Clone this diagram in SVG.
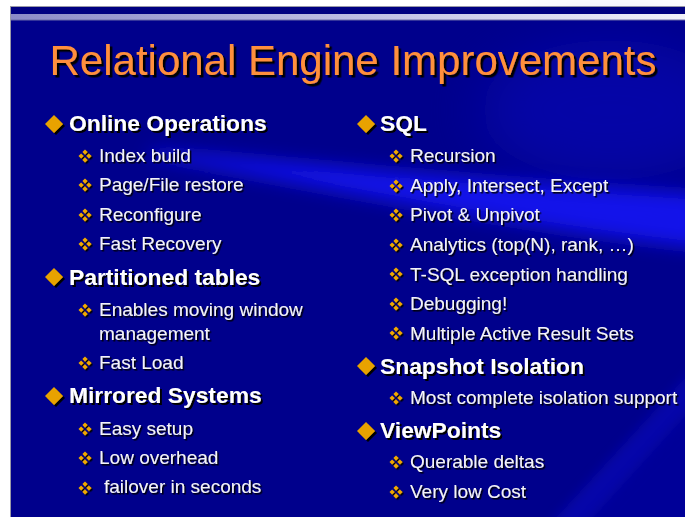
<svg xmlns="http://www.w3.org/2000/svg" xmlns:xlink="http://www.w3.org/1999/xlink" width="685" height="517" viewBox="0 0 685 517">
  <style>
    text { font-family: "Liberation Sans", Arial, sans-serif; }
    .title { font-size: 42px; fill: #ff8f3c; filter: url(#shadowBig); }
    .head { font-size: 22.8px; font-weight: bold; fill: #ffffff; filter: url(#shadow); }
    .item { font-size: 19px; fill: #f4f4f8; filter: url(#shadowSmall); }
    .bullet { fill: #e8a200; filter: url(#shadow); }
    .sub { fill: #f0a800; filter: url(#shadowSmall); }
  </style>
  <defs>
    <filter id="shadowBig" x="-5%" y="-20%" width="110%" height="140%">
      <feDropShadow dx="2.5" dy="2.5" stdDeviation="0.4" flood-color="#000000" flood-opacity="1"/>
    </filter>
    <filter id="shadow" x="-10%" y="-30%" width="120%" height="160%">
      <feDropShadow dx="2" dy="2" stdDeviation="0.3" flood-color="#000000" flood-opacity="1"/>
    </filter>
    <filter id="shadowSmall" x="-10%" y="-30%" width="120%" height="160%">
      <feDropShadow dx="1.5" dy="1.5" stdDeviation="0.3" flood-color="#000000" flood-opacity="1"/>
    </filter>
    <filter id="soft8" x="-20%" y="-50%" width="140%" height="200%">
      <feGaussianBlur stdDeviation="9"/>
    </filter>
    <filter id="soft25" x="-50%" y="-50%" width="200%" height="200%">
      <feGaussianBlur stdDeviation="28"/>
    </filter>
    <filter id="soft5" x="-30%" y="-30%" width="160%" height="160%">
      <feGaussianBlur stdDeviation="6"/>
    </filter>
    <linearGradient id="stripe" x1="0" y1="0" x2="1" y2="0">
      <stop offset="0" stop-color="#8c8cc8"/>
      <stop offset="0.6" stop-color="#c8c8e8"/>
      <stop offset="1" stop-color="#f2f2fa"/>
    </linearGradient>
    <!-- large diamond bullet -->
    <path id="dia" d="M0,-9 L9,0 L0,9 L-9,0 Z"/>
    <!-- four-diamond sub bullet -->
    <path id="quad" d="M0,-6.5 L2.6,-3.9 L0,-1.3 L-2.6,-3.9 Z M0,1.3 L2.6,3.9 L0,6.5 L-2.6,3.9 Z M-6.5,0 L-3.9,-2.6 L-1.3,0 L-3.9,2.6 Z M6.5,0 L3.9,-2.6 L1.3,0 L3.9,2.6 Z"/>
  </defs>

  <!-- page and slide frame -->
  <rect x="0" y="0" width="685" height="517" fill="#ffffff"/>
  <rect x="10.5" y="6.5" width="680" height="520" fill="#00008c" stroke="#9a9aa8" stroke-width="1"/>

  <!-- background lighting -->
  <g id="background">
    <ellipse cx="610" cy="110" rx="130" ry="70" fill="#0808c8" opacity="0.45" filter="url(#soft25)"/>
    <path d="M150,150 C300,162 460,180 700,194 L700,248 C500,226 340,190 150,157 Z" fill="#1212f4" opacity="0.9" filter="url(#soft8)"/>
    <path d="M545,530 L582,530 L700,400 L700,362 Z" fill="#1010c8" opacity="0.5" filter="url(#soft5)"/>
    <path d="M582,530 L700,530 L700,400 Z" fill="#0404a8" opacity="0.45" filter="url(#soft5)"/>
  </g>

  <!-- top band -->
  <rect x="11" y="7" width="674" height="7" fill="#000080"/>
  <rect x="11" y="14" width="674" height="6" fill="url(#stripe)"/>
  <rect x="11" y="19.5" width="674" height="1" fill="#6a6aa8"/>

  <text class="title" x="353" y="75" text-anchor="middle">Relational Engine Improvements</text>

  <!-- left column -->
  <g id="online-operations">
    <use href="#dia" class="bullet" x="54" y="124"/>
    <text class="head" x="69" y="131">Online Operations</text>
    <use href="#quad" class="sub" x="85" y="156"/>
    <text class="item" x="99" y="162">Index build</text>
    <use href="#quad" class="sub" x="85" y="185"/>
    <text class="item" x="99" y="191">Page/File restore</text>
    <use href="#quad" class="sub" x="85" y="215"/>
    <text class="item" x="99" y="221">Reconfigure</text>
    <use href="#quad" class="sub" x="85" y="244"/>
    <text class="item" x="99" y="250">Fast Recovery</text>
  </g>

  <g id="partitioned-tables">
    <use href="#dia" class="bullet" x="54" y="277"/>
    <text class="head" x="69" y="285">Partitioned tables</text>
    <use href="#quad" class="sub" x="85" y="310"/>
    <text class="item" x="99" y="316">Enables moving window</text>
    <text class="item" x="99" y="340">management</text>
    <use href="#quad" class="sub" x="85" y="363"/>
    <text class="item" x="99" y="369">Fast Load</text>
  </g>

  <g id="mirrored-systems">
    <use href="#dia" class="bullet" x="54" y="396"/>
    <text class="head" x="69" y="403">Mirrored Systems</text>
    <use href="#quad" class="sub" x="85" y="429"/>
    <text class="item" x="99" y="435">Easy setup</text>
    <use href="#quad" class="sub" x="85" y="458"/>
    <text class="item" x="99" y="464">Low overhead</text>
    <use href="#quad" class="sub" x="85" y="488"/>
    <text class="item" x="104" y="493">failover in seconds</text>
  </g>

  <!-- right column -->
  <g id="sql">
    <use href="#dia" class="bullet" x="366" y="124"/>
    <text class="head" x="380" y="131">SQL</text>
    <use href="#quad" class="sub" x="396" y="156"/>
    <text class="item" x="410" y="162">Recursion</text>
    <use href="#quad" class="sub" x="396" y="186"/>
    <text class="item" x="410" y="192">Apply, Intersect, Except</text>
    <use href="#quad" class="sub" x="396" y="215"/>
    <text class="item" x="410" y="221">Pivot &amp; Unpivot</text>
    <use href="#quad" class="sub" x="396" y="245"/>
    <text class="item" x="410" y="251">Analytics (top(N), rank, …)</text>
    <use href="#quad" class="sub" x="396" y="274"/>
    <text class="item" x="410" y="280.5">T-SQL exception handling</text>
    <use href="#quad" class="sub" x="396" y="304"/>
    <text class="item" x="410" y="310">Debugging!</text>
    <use href="#quad" class="sub" x="396" y="333"/>
    <text class="item" x="410" y="339.5">Multiple Active Result Sets</text>
  </g>

  <g id="snapshot-isolation">
    <use href="#dia" class="bullet" x="366" y="366"/>
    <text class="head" x="380" y="374">Snapshot Isolation</text>
    <use href="#quad" class="sub" x="396" y="398"/>
    <text class="item" x="410" y="404">Most complete isolation support</text>
  </g>

  <g id="viewpoints">
    <use href="#dia" class="bullet" x="366" y="431"/>
    <text class="head" x="380" y="438">ViewPoints</text>
    <use href="#quad" class="sub" x="396" y="462"/>
    <text class="item" x="410" y="468">Querable deltas</text>
    <use href="#quad" class="sub" x="396" y="492"/>
    <text class="item" x="410" y="498">Very low Cost</text>
  </g>
</svg>
